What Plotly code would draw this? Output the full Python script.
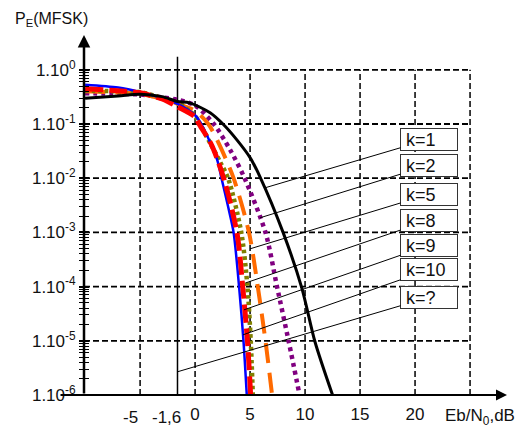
import numpy as np
import plotly.graph_objects as go

# ---------------- data ----------------
# k = 1 (black solid)
ebn0_k1 = [-10, -7, -5, -3, -1.6, -0.5, 1.4, 2.6, 3.8, 5.0, 5.9, 8.0, 9.7, 10.9, 12.5]
pe_k1 = [0.30, 0.33, 0.355, 0.32, 0.26, 0.245, 0.16, 0.097, 0.051, 0.024, 0.0106, 1.0e-3, 9.5e-5, 9.6e-6, 1.0e-6]
# k = 2 (purple dotted)
ebn0_k2 = [-10, -7, -5, -3, -1.6, 0, 1.7, 3.2, 4.5, 6.4, 7.45, 8.5, 9.5]
pe_k2 = [0.37, 0.36, 0.35, 0.31, 0.28, 0.22, 0.1, 0.033, 1e-2, 1e-3, 1e-4, 1e-5, 1e-6]
# k = 5 (orange dashed)
ebn0_k5 = [-10, -7, -5, -3, -1.6, 0, 1.2, 2.0, 3.5, 4.9, 5.7, 6.4, 7.0]
pe_k5 = [0.40, 0.38, 0.36, 0.29, 0.236, 0.175, 0.1, 0.051, 1e-2, 1e-3, 1e-4, 1e-5, 1e-6]
# k = 8 (olive dotted)
ebn0_k8 = [-10, -7, -5, -3, -1.6, 0, 0.45, 1.36, 2.27, 3.0, 4.2, 4.76, 5.06, 5.25]
pe_k8 = [0.415, 0.40, 0.39, 0.30, 0.246, 0.14, 0.1, 0.045, 0.02, 0.01, 1e-3, 1e-4, 1e-5, 1e-6]
# k = 9 (red dashed)
ebn0_k9 = [-10, -7, -5, -3, -1.6, 0, 0.36, 1.5, 2.6, 3.8, 4.33, 4.76, 5.05]
pe_k9 = [0.446, 0.41, 0.376, 0.29, 0.208, 0.135, 0.1, 0.041, 0.01, 1e-3, 1e-4, 1e-5, 1e-6]
# k = 10 (blue solid)
ebn0_k10 = [-10, -7, -5, -3, -1.6, 0, 0.7, 2.0, 2.4, 3.0, 3.5, 4.0, 4.4, 4.7]
pe_k10 = [0.53, 0.47, 0.39, 0.30, 0.236, 0.145, 0.089, 0.022, 0.01, 3e-3, 1e-3, 1e-4, 1e-5, 1e-6]
# Shannon limit (k = ?)
shannon_db = -1.6

legend_labels = ["k=1", "k=2", "k=5", "k=8", "k=9", "k=10", "k=?"]
# where each leader line touches its curve (dB, PE)
leader_tip_db = [6.36, 5.91, 5.0, 4.6, 4.45, 4.36, -1.6]
leader_tip_pe = [6.65e-3, 1.86e-3, 4.98e-4, 1.17e-4, 3.73e-5, 1.29e-5, 2.68e-6]
# label box centres (dB, PE)
box_db = 21.27
box_pe = [5.22e-2, 1.73e-2, 5.05e-3, 1.67e-3, 5.78e-4, 2.04e-4, 6.35e-5]

x_ticks = [0, 5, 10, 15, 20]
x_ticktext = ["0", "5", "10", "15", "20"]
# labels written to the left of their line: (text, dB of the label's right edge)
x_left_labels = [("-5", -5.0), ("-1,6", -1.1)]
grid_db = [-5, 0, 5, 10, 15, 20, 25]
y_decades = [1e-6, 1e-5, 1e-4, 1e-3, 1e-2, 1e-1, 1e0]
y_ticktext = ["1.10<sup>-6</sup>", "1.10<sup>-5</sup>", "1.10<sup>-4</sup>", "1.10<sup>-3</sup>",
              "1.10<sup>-2</sup>", "1.10<sup>-1</sup>", "1.10<sup>0</sup>"]

FONT = "Arial, Liberation Sans, sans-serif"
X_LO, X_HI = -10.1, 28.36
Y_LO, Y_HI = -6.0, 0.642

fig = go.Figure()

# ---------------- grid (dashed) ----------------
for gx in grid_db:
    fig.add_trace(go.Scatter(x=[gx, gx], y=[1e-6, 1e0], mode="lines",
                             line=dict(color="black", width=1.5, dash="6px,3px"),
                             hoverinfo="skip", showlegend=False))
for gy in y_decades[1:]:
    fig.add_trace(go.Scatter(x=[X_LO, 25], y=[gy, gy], mode="lines",
                             line=dict(color="black", width=1.8, dash="6px,3px"),
                             hoverinfo="skip", showlegend=False))
# Shannon limit line
fig.add_trace(go.Scatter(x=[shannon_db, shannon_db], y=[1e-6, 10 ** 0.24], mode="lines",
                         line=dict(color="black", width=1.5),
                         hoverinfo="skip", showlegend=False))

# ---------------- curves ----------------
curves = [
    (ebn0_k2, pe_k2, dict(color="#800080", width=4.5, dash="4px,4px")),
    (ebn0_k5, pe_k5, dict(color="#FF6A00", width=4, dash="20px,10px")),
    (ebn0_k8, pe_k8, dict(color="#808000", width=4.5, dash="3.5px,3px")),
    (ebn0_k10, pe_k10, dict(color="#0000FF", width=2.5)),
    (ebn0_k9, pe_k9, dict(color="#FF0000", width=5, dash="18px,6px")),
    (ebn0_k1, pe_k1, dict(color="black", width=3)),
]
for xs, ys, ln in curves:
    fig.add_trace(go.Scatter(x=xs, y=ys, mode="lines", line=dict(shape="spline", smoothing=0.8, **ln),
                             hoverinfo="skip", showlegend=False))

# ---------------- label boxes with leader lines ----------------
annotations = []
for lab, tx, tp, bp in zip(legend_labels, leader_tip_db, leader_tip_pe, box_pe):
    annotations.append(dict(
        x=tx, y=np.log10(tp), xref="x", yref="y",
        ax=box_db, ay=np.log10(bp), axref="x", ayref="y",
        text="\u00a0" + lab, showarrow=True, arrowhead=0, arrowwidth=1, arrowcolor="black",
        font=dict(family=FONT, size=18, color="#111"),
        bgcolor="white", bordercolor="#333", borderwidth=1, borderpad=0,
        width=56, height=21, align="left", valign="middle",
    ))

for txt, xr in x_left_labels:
    annotations.append(dict(x=xr, y=0, xref="x", yref="paper", xanchor="right", yanchor="top",
                            yshift=-11, text=txt, showarrow=False,
                            font=dict(family=FONT, size=17, color="#111")))

# axis arrows
annotations.append(dict(x=1, y=0, xref="paper", yref="paper", ax=-448, ay=0,
                        text="", showarrow=True, arrowhead=2, arrowsize=1, arrowwidth=2.2,
                        arrowcolor="black"))
annotations.append(dict(x=0, y=1, xref="paper", yref="paper", ax=0, ay=360,
                        text="", showarrow=True, arrowhead=2, arrowsize=1, arrowwidth=2.5,
                        arrowcolor="black"))
# axis titles
annotations.append(dict(x=-0.168, y=1.042, xref="paper", yref="paper", xanchor="left", yanchor="middle",
                        text="P<sub>E</sub>(MFSK)", showarrow=False,
                        font=dict(family=FONT, size=16, color="#111")))
annotations.append(dict(x=0.849, y=-0.062, xref="paper", yref="paper", xanchor="left", yanchor="middle",
                        text="Eb/N<sub>0</sub>,dB", showarrow=False,
                        font=dict(family=FONT, size=17, color="#111")))

minor_vals = [m * d for d in y_decades[:-1] for m in range(2, 10)]

fig.update_layout(
    width=525, height=427,
    margin=dict(l=84, r=18, t=35, b=32, autoexpand=False),
    paper_bgcolor="white", plot_bgcolor="white",
    showlegend=False,
    annotations=annotations,
    xaxis=dict(range=[X_LO, X_HI], tickmode="array", tickvals=x_ticks, ticktext=x_ticktext,
               showgrid=False, zeroline=False, showline=False, ticks="", tickangle=0,
               automargin=False,
               tickfont=dict(family=FONT, size=17, color="#111"), ticklabelstandoff=7),
    yaxis=dict(type="log", range=[Y_LO, Y_HI], tickmode="array", tickvals=y_decades, ticktext=y_ticktext,
               showgrid=False, zeroline=False, showline=False, automargin=False,
               ticks="outside", ticklen=4, tickwidth=1.5, tickcolor="black",
               minor=dict(tickmode="array", tickvals=minor_vals, ticks="outside", ticklen=4,
                          tickwidth=1.2, tickcolor="black"),
               tickfont=dict(family=FONT, size=17, color="#111")),
    yaxis2=dict(type="log", range=[Y_LO, Y_HI], overlaying="y", anchor="x", side="left",
                tickmode="array", tickvals=y_decades, showticklabels=False, automargin=False,
                showgrid=False, zeroline=False, showline=False,
                ticks="inside", ticklen=5, tickwidth=1.5, tickcolor="black",
                minor=dict(tickmode="array", tickvals=minor_vals, ticks="inside", ticklen=5,
                           tickwidth=1.2, tickcolor="black")),
)
fig.add_trace(go.Scatter(x=[None], y=[None], yaxis="y2", showlegend=False, hoverinfo="skip"))

fig.write_html("out.html", config={"displayModeBar": False},
               post_script="document.body.style.margin='0';document.body.style.overflow='hidden';")
